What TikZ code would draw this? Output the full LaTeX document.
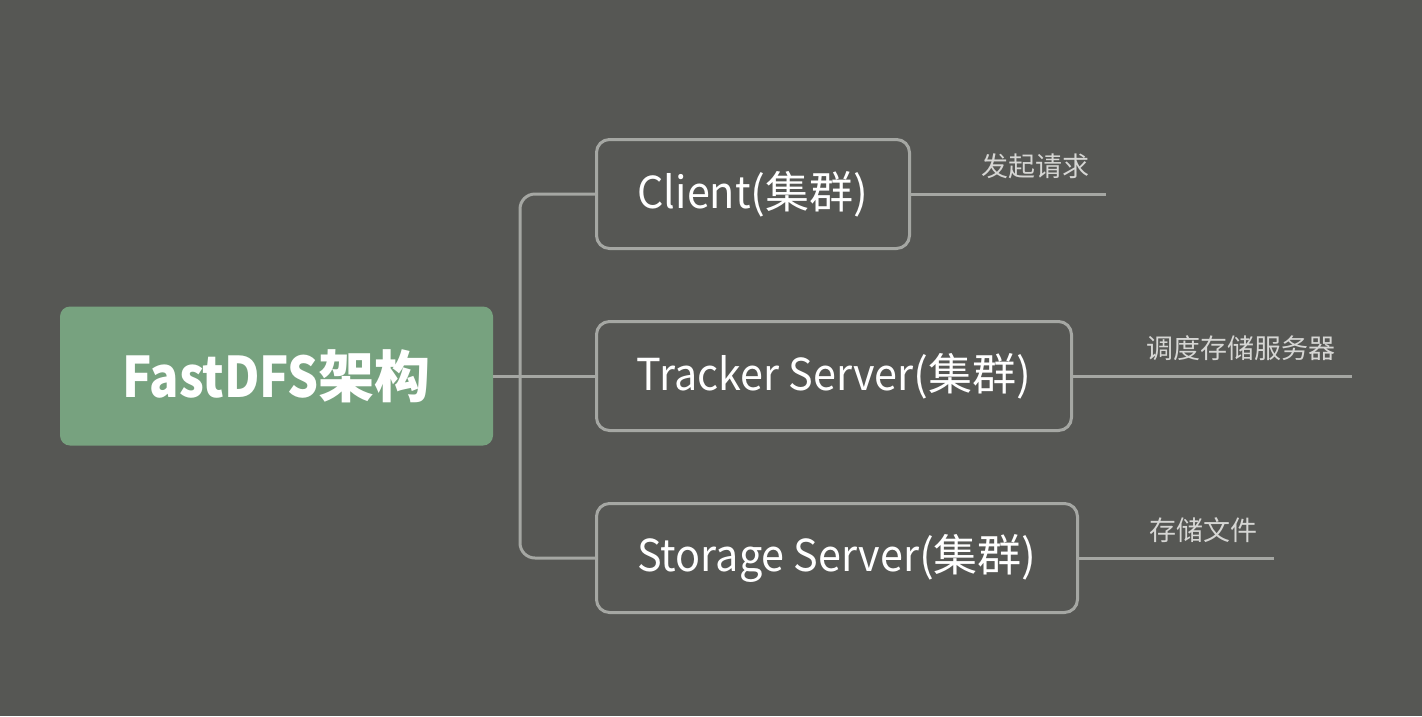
\documentclass[tikz,border=0pt]{standalone}
\usepackage{fontspec}
\setmainfont{Noto Sans CJK SC}
% condensed Latin, as in the reference
\newfontfamily\latinnarrow{Noto Sans CJK SC}[FakeStretch=0.94]
\newfontfamily\latinroot{Noto Sans CJK SC}[FakeStretch=0.87]
\usetikzlibrary{positioning,calc}
\definecolor{bggray}{HTML}{565754}
\definecolor{rootgreen}{HTML}{77A27F}
\definecolor{edgegray}{HTML}{A5A7A3}
\definecolor{notegray}{HTML}{D6D6D4}
\tikzset{
  x=1pt,y=-1pt,
  branch/.style={line width=3pt,draw=edgegray},
  rootbox/.style={rectangle,rounded corners=10pt,fill=rootgreen,minimum width=433pt,minimum height=139pt,
                  text=white,font=\fontsize{56}{66}\selectfont\bfseries},
  % branch boxes: outlined only, same height, width set per box
  subbox/.style={rectangle,rounded corners=13pt,draw=edgegray,line width=3pt,minimum height=109pt,
                 text=white,font=\fontsize{44}{52}\selectfont},
  note/.style={text=notegray,font=\fontsize{27}{32}\selectfont,anchor=east,inner sep=0},
}
\begin{document}
\begin{tikzpicture}
  \fill[bggray] (0,0) rectangle (1422,716);
  \useasboundingbox (0,0) rectangle (1422,716);
  % root and its three branches
  \node[rootbox] (fastdfs) at (276.5,376) {{\latinroot\bfseries FastDFS}架构};
  \node[subbox,minimum width=313pt] (client)  at (753,194) {{\latinnarrow Client}(集群)};
  \node[subbox,minimum width=475pt] (tracker) at (834,376) {{\latinnarrow Tracker Server}(集群)};
  \node[subbox,minimum width=481pt] (storage) at (837,558) {{\latinnarrow Storage Server}(集群)};
  % connectors: a T at the hub, rounded elbows up and down
  \coordinate (hub) at (520,376);
  \draw[branch] (fastdfs.east) -- (tracker.west);
  \draw[branch,rounded corners=15pt] (hub) |- (client.west);
  \draw[branch,rounded corners=15pt] (hub) |- (storage.west);
  % tails with their notes
  \coordinate (clientend)  at (1106,194);
  \coordinate (trackerend) at (1352,376);
  \coordinate (storageend) at (1274,558);
  \draw[branch] (client.east) -- (clientend);
  \draw[branch] (tracker.east) -- (trackerend);
  \draw[branch] (storage.east) -- (storageend);
  \node[note] (clientnote)  at ($(clientend)+(-16,-28)$)  {发起请求};
  \node[note] (trackernote) at ($(trackerend)+(-16,-28)$) {调度存储服务器};
  \node[note] (storagenote) at ($(storageend)+(-16,-28)$) {存储文件};
\end{tikzpicture}
\end{document}
